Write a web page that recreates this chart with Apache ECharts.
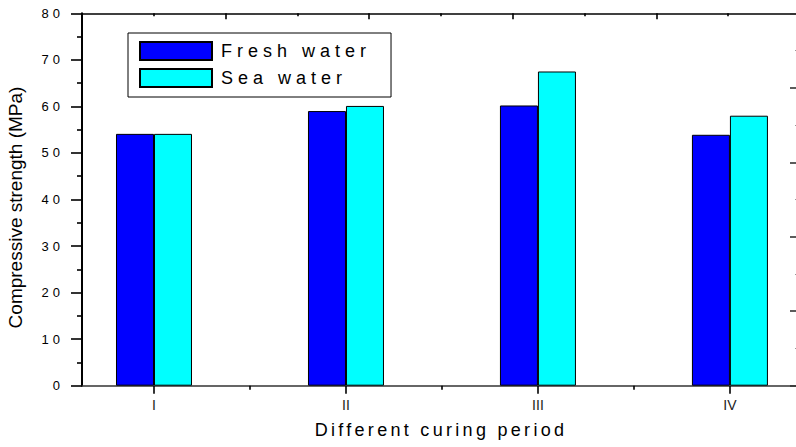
<!DOCTYPE html>
<html>
<head>
<meta charset="utf-8">
<script src="https://cdn.jsdelivr.net/npm/echarts@6/dist/echarts.min.js"></script>
<style>
  html, body { margin: 0; padding: 0; background: #fff; }
  #chart { width: 796px; height: 447px; overflow: hidden; }
</style>
</head>
<body>
<div id="chart"></div>
<script>
// Curing periods and their positions on the bottom axis
const categories = ['I', 'II', 'III', 'IV'];
const positions = [1, 2, 3, 4];
const boundaries = [1.5, 2.5, 3.5];

// Compressive strength (MPa)
const freshWater = [54.1, 59.0, 60.2, 53.9];
const seaWater = [54.1, 60.1, 67.5, 58.0];

// Left axis ticks
const yMin = 0, yMax = 80, yStep = 10;

const FONT = '"Liberation Sans", Arial, sans-serif';

const chart = echarts.init(document.getElementById('chart'), null, { renderer: 'svg' });

const option = {
  animation: false,
  backgroundColor: '#fff',
  textStyle: { fontFamily: FONT },
  // the frame runs a few pixels past the right edge of the page
  grid: {
    left: 82, width: 718, top: 13.3, height: 372.4,
    containLabel: false, outerBoundsMode: 'none'
  },
  legend: {
    orient: 'vertical',
    left: 128, top: 33,
    padding: [8, 75, 9, 11],
    itemGap: 7,
    itemWidth: 72, itemHeight: 18,
    backgroundColor: '#fff',
    borderColor: '#000', borderWidth: 1,
    icon: 'rect',
    textStyle: { fontSize: 18, color: '#000', fontFamily: FONT, padding: [0, 0, 0, 4] },
    data: ['Fresh water', 'Sea water']
  },
  xAxis: [
    {
      type: 'value', position: 'bottom',
      min: 0.625, max: 4.365,
      name: 'Different curing period',
      nameLocation: 'middle', nameGap: 35,
      nameTextStyle: { fontSize: 18, color: '#000', fontFamily: FONT },
      axisLine: { show: true, onZero: false, lineStyle: { color: '#333', width: 1.6 } },
      axisTick: { show: true, inside: false, length: 8, customValues: positions, lineStyle: { color: '#000', width: 1.6 } },
      axisLabel: {
        show: true, customValues: positions, margin: 12,
        fontSize: 14, color: '#222', fontFamily: FONT,
        formatter: v => categories[positions.indexOf(Math.round(v))] || ''
      },
      splitLine: { show: false }
    },
    {
      type: 'value', position: 'bottom', gridIndex: 0,
      min: 0.625, max: 4.365,
      axisLine: { show: false },
      axisTick: { show: true, inside: false, length: 4, customValues: boundaries, lineStyle: { color: '#000', width: 1.6 } },
      axisLabel: { show: false },
      splitLine: { show: false }
    },
    {
      type: 'value', position: 'top',
      min: 0, max: 5, interval: 1,
      axisLine: { show: true, onZero: false, lineStyle: { color: '#000', width: 1.6 } },
      axisTick: { show: true, inside: true, length: 6, lineStyle: { color: '#000', width: 1.6 } },
      minorTick: { show: true, splitNumber: 2, length: 3, lineStyle: { color: '#000', width: 1.6 } },
      axisLabel: { show: false },
      splitLine: { show: false }
    }
  ],
  yAxis: [
    {
      type: 'value', position: 'left',
      min: yMin, max: yMax, interval: yStep,
      name: 'Compressive strength (MPa)',
      nameLocation: 'middle', nameGap: 57, nameRotate: 90,
      nameTextStyle: { fontSize: 19, color: '#000', fontFamily: FONT, padding: [0, 16, 0, 0] },
      axisLine: { show: true, onZero: false, lineStyle: { color: '#000', width: 2 } },
      axisTick: { show: true, inside: false, length: 11, lineStyle: { color: '#000', width: 1.6 } },
      minorTick: { show: true, splitNumber: 2, length: 5, lineStyle: { color: '#000', width: 1.6 } },
      axisLabel: { show: true, margin: 18, fontSize: 13, color: '#000', fontFamily: FONT },
      splitLine: { show: false }
    },
    {
      type: 'value', position: 'right',
      min: 0, max: 5, interval: 1,
      axisLine: { show: true, onZero: false, lineStyle: { color: '#000', width: 1.6 } },
      axisTick: { show: true, inside: true, length: 10, lineStyle: { color: '#333', width: 1.6 } },
      minorTick: { show: true, splitNumber: 2, length: 5, lineStyle: { color: '#999', width: 1 } },
      axisLabel: { show: false },
      splitLine: { show: false }
    }
  ],
  series: [
    {
      name: 'Fresh water', type: 'bar',
      xAxisIndex: 0, yAxisIndex: 0,
      barWidth: 38, barGap: '0%',
      itemStyle: { color: '#0000ff', borderColor: '#000', borderWidth: 1 },
      data: positions.map((p, i) => [p, freshWater[i]])
    },
    {
      name: 'Sea water', type: 'bar',
      xAxisIndex: 0, yAxisIndex: 0,
      barWidth: 38, barGap: '0%',
      itemStyle: { color: '#00ffff', borderColor: '#000', borderWidth: 1 },
      data: positions.map((p, i) => [p, seaWater[i]])
    }
  ]
};

chart.setOption(option);

// Widen the letter spacing of the spaced-out labels
function spaceLetters() {
  const texts = document.querySelectorAll('#chart svg text');
  texts.forEach(t => {
    const s = t.textContent;
    if (s === 'Fresh water' || s === 'Sea water') {
      t.setAttribute('letter-spacing', '5');
    } else if (s === 'Different curing period') {
      t.setAttribute('letter-spacing', '3.3');
    } else if (/^\d+$/.test(s)) {
      t.setAttribute('letter-spacing', '4');
    }
  });
}
spaceLetters();
chart.on('finished', spaceLetters);
setTimeout(spaceLetters, 50);
</script>
</body>
</html>
